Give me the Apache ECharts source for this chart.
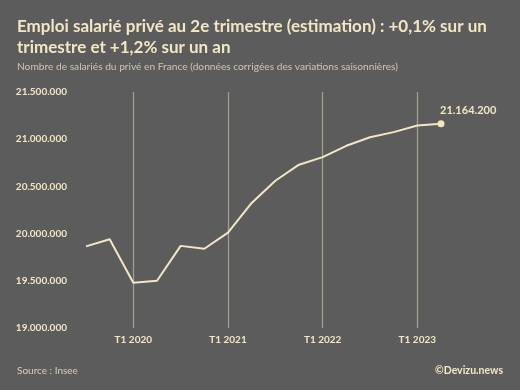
<!DOCTYPE html>
<html>
<head>
<meta charset="utf-8">
<script src="https://cdn.jsdelivr.net/npm/echarts@6/dist/echarts.min.js"></script>
<style>
html,body{margin:0;padding:0;background:#5c5c5c;}
#c{width:520px;height:390px;}
</style>
</head>
<body>
<div id="c"></div>
<script>
var categories = ['T3 2019','T4 2019','T1 2020','T2 2020','T3 2020','T4 2020','T1 2021','T2 2021','T3 2021','T4 2021','T1 2022','T2 2022','T3 2022','T4 2022','T1 2023','T2 2023'];
var salaries = [19865000,19940000,19480000,19500000,19870000,19840000,20010000,20325000,20560000,20730000,20810000,20930000,21020000,21075000,21145000,21164200];
var yTicks = [19000000,19500000,20000000,20500000,21000000,21500000];

var cream = '#f3e6c4';
var fmt = function(v){ return String(Math.round(v)).replace(/\B(?=(\d{3})+(?!\d))/g,'.'); };
var seriesData = salaries.map(function(v,i){
  if(i === salaries.length-1){
    return {value:v, symbol:'circle', symbolSize:7,
      label:{show:true, position:'top', align:'left', offset:[-1,2], distance:6,
        formatter:function(p){return fmt(p.value);},
        color:cream, fontWeight:'bold', fontSize:11, fontFamily:'Lato'}};
  }
  return {value:v, symbol:'none'};
});

var chart = echarts.init(document.getElementById('c'));
chart.setOption({
  backgroundColor:'#5c5c5c',
  animation:false,
  title:[
    {text:'Emploi salarié privé au 2e trimestre (estimation) : +0,1% sur un\ntrimestre et +1,2% sur un an',
     left:12, top:11,
     textStyle:{color:cream, fontSize:17, fontWeight:'bold', fontFamily:'Lato', lineHeight:21}},
    {text:'Nombre de salariés du privé en France (données corrigées des variations saisonnières)',
     left:12, top:57,
     textStyle:{color:'#cfc6b0', fontSize:10.2, fontWeight:'normal', fontFamily:'Lato'}},
    {text:'Source : Insee', left:12, top:361,
     textStyle:{color:'#d8cfb8', fontSize:10, fontWeight:'normal', fontFamily:'Lato'}},
    {text:'©Devizu.news', right:12, top:360,
     textStyle:{color:cream, fontSize:10.5, fontWeight:'bold', fontFamily:'Lato'}}
  ],
  grid:{left:86, right:79, top:92, bottom:62},
  xAxis:{
    type:'category', data:categories, boundaryGap:false,
    axisLine:{show:false}, axisTick:{show:false},
    axisLabel:{
      interval:function(i,v){return v.indexOf('T1')===0;},
      color:cream, fontWeight:'bold', fontSize:10, fontFamily:'Lato', margin:7
    },
    splitLine:{show:true, interval:function(i,v){return v.indexOf('T1')===0;},
      lineStyle:{color:'#a29d8c', width:1.3}}
  },
  yAxis:{
    type:'value', min:yTicks[0], max:yTicks[yTicks.length-1], interval:500000,
    axisLine:{show:false}, axisTick:{show:false}, splitLine:{show:false},
    axisLabel:{formatter:fmt, color:cream, fontWeight:'bold', fontSize:10, fontFamily:'Lato', margin:19}
  },
  series:[{
    type:'line', data:seriesData,
    lineStyle:{color:cream, width:2},
    itemStyle:{color:cream},
    symbol:'none'
  }]
});
</script>
</body>
</html>
